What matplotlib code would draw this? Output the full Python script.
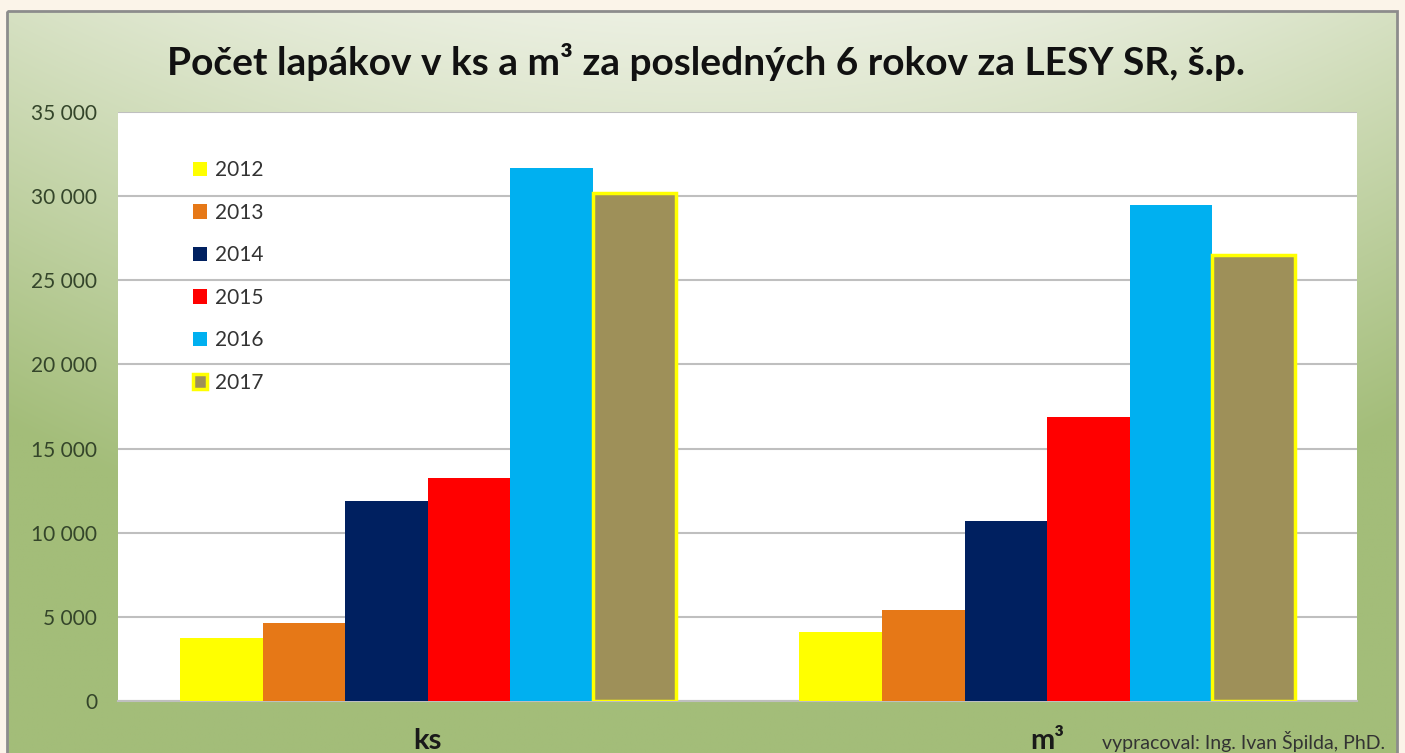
import numpy as np
import matplotlib.pyplot as plt
from matplotlib.colors import to_rgb
from matplotlib.patches import Rectangle

categories = ["ks", "m³"]
years = ["2012", "2013", "2014", "2015", "2016", "2017"]
v2012 = [3750, 4100]
v2013 = [4650, 5400]
v2014 = [11900, 10700]
v2015 = [13250, 16850]
v2016 = [31700, 29450]
v2017 = [30200, 26500]
series = [v2012, v2013, v2014, v2015, v2016, v2017]
colors = ["#FFFF00", "#E67817", "#002060", "#FF0000", "#00B0F0", "#9E9059"]
yticks = [0, 5000, 10000, 15000, 20000, 25000, 30000, 35000]

W, H = 1405, 753
fig = plt.figure(figsize=(W / 100, H / 100), dpi=100)
fig.patch.set_facecolor("#FBF4E9")

# background panel with gradient
bg = fig.add_axes([0, 0, 1, 1], zorder=-10)
bg.set_xlim(0, W)
bg.set_ylim(H, 0)
bg.axis("off")
top = np.array(to_rgb("#ECF0E2"))
bot = np.array(to_rgb("#A3BD79"))
yy = np.linspace(0, 1, 300)[:, None]
xx = np.linspace(-1, 1, 300)[None, :]
t = np.clip(yy * 1.25 + 0.3 * xx ** 2, 0, 1)
img = top[None, None, :] * (1 - t[..., None]) + bot[None, None, :] * t[..., None]
bg.imshow(img, extent=[7, 1397, H, 11], aspect="auto", interpolation="bilinear")
bg.add_patch(Rectangle((7, 11), 1390, 760, fill=False, edgecolor="#8C8C8C", lw=2))

ax = fig.add_axes([118 / W, (H - 701) / H, 1239 / W, 589 / H])
ax.set_facecolor("white")
x = np.arange(len(categories))
bw = 0.8 / len(years)
for i, (vals, c, yr) in enumerate(zip(series, colors, years)):
    pos = x - 0.4 + bw * (i + 0.5)
    if yr == "2017":
        ax.bar(pos, vals, bw, color=c, edgecolor="#FFFF00", linewidth=2.5, label=yr, zorder=3)
    else:
        ax.bar(pos, vals, bw, color=c, label=yr, zorder=3)

ax.set_xlim(-0.5, 1.5)
ax.set_ylim(0, 35000)
ax.set_yticks(yticks)
ax.set_yticklabels([f"{v:,}".replace(",", " ") for v in yticks], fontsize=15,
                   color="#34452A", family="Lato")
ax.tick_params(axis="y", length=0, pad=15)
ax.set_xticks([])
ax.grid(axis="y", color="#BFBFBF", lw=1.5, zorder=0)
for s in ["top", "right", "left"]:
    ax.spines[s].set_visible(False)
ax.spines["bottom"].set_color("#BFBFBF")
ax.spines["bottom"].set_linewidth(1.5)

for xi, cat in zip(x, categories):
    ax.text(xi, -2400, cat, ha="center", va="center", fontsize=21, fontweight="bold",
            family="Lato", color="#1A1A1A", clip_on=False)

leg = ax.legend(loc="upper left", bbox_to_anchor=(0.045, 0.95), frameon=False,
                handlelength=0.7, handleheight=0.7, handletextpad=0.4,
                labelspacing=1.08, prop={"family": "Lato", "size": 15})
for txt in leg.get_texts():
    txt.set_color("#333333")

fig.text(706 / W, 1 - 62 / H, "Počet lapákov v ks a m³ za posledných 6 rokov za LESY SR, š.p.",
         ha="center", va="center", fontsize=28, fontweight="bold", family="Lato", color="#111111")
fig.text(1385 / W, 1 - 742 / H, "vypracoval: Ing. Ivan Špilda, PhD.", ha="right", va="center",
         fontsize=14, family="Lato", color="#333333")

fig.savefig("out.png", dpi=100, facecolor=fig.get_facecolor())
